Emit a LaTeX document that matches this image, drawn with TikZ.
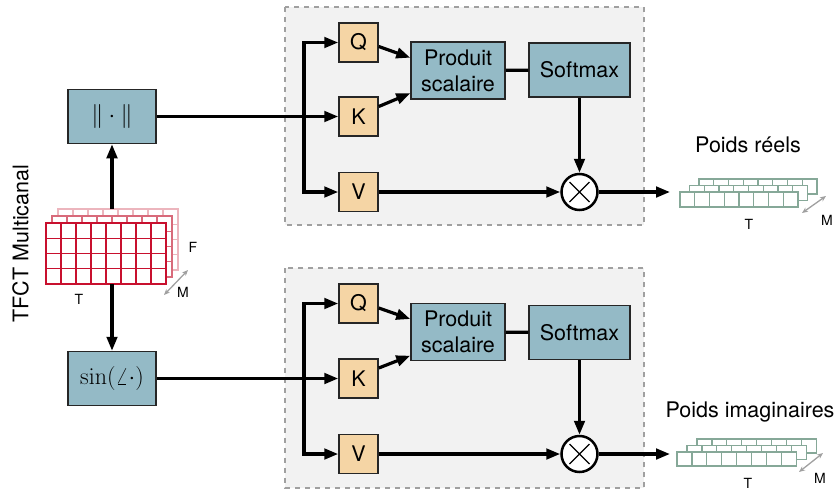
\RequirePackage{fix-cm}
\documentclass[tikz,border=0pt]{standalone}
\usepackage{amsmath}
\usepackage[no-math]{fontspec}
\setmainfont{TeX Gyre Heros}
\usepackage{tikz}
\usetikzlibrary{arrows.meta}
\definecolor{qkvcol}{HTML}{F5D5A5}
\definecolor{opcol}{HTML}{94BAC6}
\definecolor{tffront}{HTML}{C8102E}
\definecolor{tfmid}{HTML}{D86A7A}
\definecolor{tfback}{HTML}{ECB5BD}
\definecolor{poidscol}{HTML}{86A898}
\definecolor{panelcol}{HTML}{F2F2F2}
\definecolor{dashcol}{HTML}{A0A0A0}

\begin{document}
\begin{tikzpicture}[x=1pt,y=-1pt,
  font=\fontsize{21.5}{25.7}\selectfont,
  panel/.style={fill=panelcol,draw=dashcol,line width=2pt,dash pattern=on 5pt off 5pt},
  qkv/.style={draw=black!85,fill=qkvcol,line width=1.5pt,minimum width=39pt,minimum height=39pt,inner sep=0pt},
  op/.style={draw=black!85,fill=opcol,line width=1.5pt,inner sep=2pt,align=center},
  formule/.style={op,minimum width=88pt,minimum height=54pt,font=\fontsize{24}{28}\selectfont},
  mult/.style={circle,draw,fill=white,line width=2.5pt,minimum size=36pt,inner sep=0pt},
  arr/.style={line width=3.2pt,-{Triangle[length=14pt,width=10.5pt]}},
  lien/.style={line width=3.2pt},
  petit/.style={font=\fontsize{14}{16}\selectfont},
  dim/.style={dashcol,line width=1.3pt,{Stealth[length=6pt,width=5pt]}-{Stealth[length=6pt,width=5pt]}}]
\useasboundingbox (0,0) rectangle (836,491);

\draw[panel] (285,7) rectangle (644,225);
\draw[panel] (285,268) rectangle (644,488);

\node[rotate=90,inner sep=0pt] (tfct) at (20.5,243.5) {TFCT Multicanal};
\coordinate (tn) at (112,209);
\coordinate (ts) at (112,284);
\node[formule] (norm) at (112,116.5) {$\|\cdot\|$};
\node[formule] (sin) at (112,378.5) {$\sin(\angle\cdot)$};

\foreach \k/\col in {2/tfback,1/tfmid,0/tffront}
  \foreach \i in {0,...,7}
    \foreach \j in {0,...,3}
      \draw[\col,fill=white,line width=1.3pt] ({46+6*\k+15*\i},{223-7*\k+15.25*\j}) rectangle ++(15,15.25);
\node[petit] (tT) at (79,299) {T};
\node[petit] (tF) at (193,247) {F};
\node[petit] (tM) at (183,292) {M};
\coordinate (tm1) at (164,295);
\coordinate (tm2) at (188,270);
\draw[dim] (tm1) -- (tm2);

\node[qkv] (Q1) at (358.5,42.5) {Q};
\node[qkv] (K1) at (358.5,116.5) {K};
\node[qkv] (V1) at (358.5,192) {V};
\node[op,minimum width=94pt,minimum height=57pt] (P1) at (458,70.5) {Produit\\scalaire};
\node[op,minimum width=101pt,minimum height=54pt] (S1) at (579.5,70) {Softmax};
\node[mult] (M1) at (579.5,192) {};
\coordinate (b1) at (304,116.5);
\coordinate (o1) at (670,192);

\node[qkv] (Q2) at (358.5,303.5) {Q};
\node[qkv] (K2) at (358.5,378.5) {K};
\node[qkv] (V2) at (358.5,454) {V};
\node[op,minimum width=94pt,minimum height=57pt] (P2) at (458,332) {Produit\\scalaire};
\node[op,minimum width=101pt,minimum height=54pt] (S2) at (579.5,332.5) {Softmax};
\node[mult] (M2) at (579.5,454) {};
\coordinate (b2) at (304,378.5);
\coordinate (o2) at (670,454);

\draw[arr] (tn) -- (norm);
\draw[arr] (ts) -- (sin);
\draw[arr] (norm) -- (K1);
\draw[arr] (sin) -- (K2);
\draw[arr] (b1) |- (Q1.west);
\draw[arr] (b1) |- (V1.west);
\draw[arr] (b2) |- (Q2.west);
\draw[arr] (b2) |- (V2.west);
\draw[arr] ([yshift=-4pt]Q1.east) -- ([yshift=12.8pt]P1.west);
\draw[arr] ([yshift=10pt]K1.east) -- ([yshift=-22.8pt]P1.west);
\draw[arr] ([yshift=-4.5pt]Q2.east) -- ([yshift=13pt]P2.west);
\draw[arr] ([yshift=10.5pt]K2.east) -- ([yshift=-23.7pt]P2.west);
\draw[lien] (P1) -- (S1);
\draw[lien] (P2) -- (S2);
\draw[arr] (S1) -- (M1);
\draw[arr] (S2) -- (M2);
\draw[arr] (V1) -- (M1);
\draw[arr] (V2) -- (M2);
\draw[arr] (M1) -- (o1);
\draw[arr] (M2) -- (o2);
\foreach \m in {M1,M2}
  \draw[line width=1.3pt] (\m.center) ++(-10,-10) -- ++(20,20) (\m.center) ++(10,-10) -- ++(-20,20);

\foreach \k in {2,1,0}
  \foreach \i in {0,...,7}
    \draw[poidscol,fill=white,line width=1.2pt] ({680+9.5*\k+14.75*\i},{192-6.5*\k}) rectangle ++(14.75,15);
\node (pr) at (748,145) {Poids réels};
\node[petit] (pT1) at (749,224) {T};
\node[petit] (pM1) at (827,220) {M};
\coordinate (pm1a) at (802,213);
\coordinate (pm1b) at (826,196);
\draw[dim] (pm1a) -- (pm1b);

\foreach \k in {2,1,0}
  \foreach \i in {0,...,7}
    \draw[poidscol,fill=white,line width=1.2pt] ({677+10*\k+14.9*\i},{452-6.5*\k}) rectangle ++(14.9,14);
\node (pi) at (750,412) {Poids imaginaires};
\node[petit] (pT2) at (748,483) {T};
\node[petit] (pM2) at (820,478) {M};
\coordinate (pm2a) at (799,472);
\coordinate (pm2b) at (823,453);
\draw[dim] (pm2a) -- (pm2b);
\end{tikzpicture}
\end{document}
